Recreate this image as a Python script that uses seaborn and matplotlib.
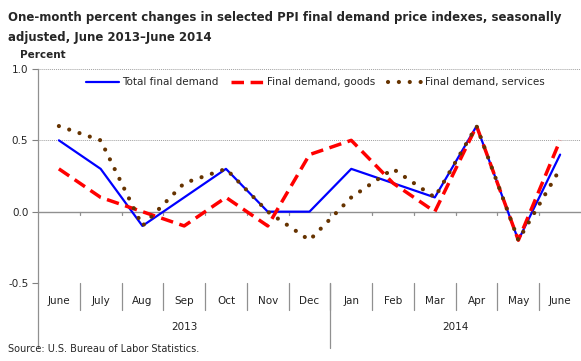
import numpy as np
import pandas as pd
import matplotlib
matplotlib.use("Agg")
import matplotlib.pyplot as plt
import matplotlib.transforms as mtransforms
import seaborn as sns

months = ["June", "July", "Aug", "Sep", "Oct", "Nov", "Dec",
          "Jan", "Feb", "Mar", "Apr", "May", "June"]
years = ["2013", "2014"]
year_spans = [(0, 7), (7, 13)]  # month index ranges per year

total = [0.5, 0.3, -0.1, 0.1, 0.3, 0.0, 0.0, 0.3, 0.2, 0.1, 0.6, -0.2, 0.4]
goods = [0.3, 0.1, 0.0, -0.1, 0.1, -0.1, 0.4, 0.5, 0.2, 0.0, 0.6, -0.2, 0.5]
services = [0.6, 0.5, -0.1, 0.2, 0.3, 0.0, -0.2, 0.1, 0.3, 0.1, 0.6, -0.2, 0.3]

series_names = ["Total final demand", "Final demand, goods", "Final demand, services"]

pos = np.arange(len(months))
df = pd.DataFrame({
    "pos": np.tile(pos, 3),
    "value": total + goods + services,
    "series": np.repeat(series_names, len(months)),
})

sns.set_style("white")
plt.rcParams["font.family"] = ["DejaVu Sans"]

fig = plt.figure(figsize=(5.81, 3.61), dpi=100)
ax = fig.add_axes([38 / 581, 1 - 283 / 361, 1 - 38 / 581, (283 - 69) / 361])

styles = {
    "Total final demand": dict(color="#0000FF", lw=1.6),
    "Final demand, goods": dict(color="#FF0000", lw=2.5, dashes=(3.6, 1.9)),
    "Final demand, services": dict(color="#663300", lw=3.0, dashes=(0.01, 2.6),
                                   dash_capstyle="round"),
}
for name in series_names:
    st = dict(styles[name])
    dashes = st.pop("dashes", None)
    sub = df[df["series"] == name]
    sns.lineplot(data=sub, x="pos", y="value", ax=ax, label=name, **st)
    if dashes is not None:
        ax.lines[-1].set_dashes(dashes)

ax.set_xlim(-0.5, len(months) - 0.5)
ax.set_ylim(-0.5, 1.0)
ax.set_yticks([-0.5, 0.0, 0.5, 1.0])
ax.set_yticklabels(["-0.5", "0.0", "0.5", "1.0"], fontsize=7.5)
ax.tick_params(axis="y", length=4, width=0.8, color="#808080", pad=3, left=True)
for y in [-0.5, 0.5, 1.0]:
    ax.axhline(y, color="#a0a0a0", lw=0.7, ls=(0, (1, 1)), zorder=0)
ax.axhline(0, color="#909090", lw=1.0, zorder=0.5)

# small ticks under the zero line at month boundaries
for b in np.arange(0.5, len(months) - 0.5, 1):
    ax.plot([b, b], [0, -0.025], color="#909090", lw=0.9, zorder=0.5)

for s in ["top", "right", "bottom"]:
    ax.spines[s].set_visible(False)
ax.spines["left"].set_color("#909090")
ax.spines["left"].set_linewidth(0.9)

# month labels and separators below the plot
ax.set_xticks(pos)
ax.set_xticklabels([])
ax.tick_params(axis="x", length=0)
trans = mtransforms.blended_transform_factory(ax.transData, ax.transAxes)
px = 1 / ((283 - 69))  # one pixel in axes fraction (vertical)
for i, m in enumerate(months):
    ax.text(i, -18 * px, m, transform=trans, ha="center", va="center",
            fontsize=7.5, color="#222222")
for b in np.arange(0.5, len(months) - 0.5, 1):
    ax.plot([b, b], [0, -27 * px], transform=trans, color="#909090",
            lw=0.9, clip_on=False)
for (a, e), yr in zip(year_spans, years):
    ax.text((a + e - 1) / 2, -44 * px, yr, transform=trans, ha="center",
            va="center", fontsize=7.5, color="#222222")
    ax.plot([a - 0.5, a - 0.5], [0, -65 * px], transform=trans,
            color="#909090", lw=0.9, clip_on=False)

ax.set_xlabel("")
ax.set_ylabel("")

leg = ax.legend(loc="upper left", bbox_to_anchor=(0.08, 0.98), ncol=3,
                frameon=False, fontsize=7.5, handlelength=3.2,
                handletextpad=0.3, columnspacing=1.2, borderaxespad=0)

fig.text(8 / 581, 1 - 18 / 361, "One-month percent changes in selected PPI final demand price indexes, seasonally",
         fontsize=8.5, fontweight="bold", va="center", ha="left")
fig.text(8 / 581, 1 - 37 / 361, "adjusted, June 2013\u2013June 2014",
         fontsize=8.5, fontweight="bold", va="center", ha="left")
fig.text(20 / 581, 1 - 55 / 361, "Percent", fontsize=7.5, fontweight="bold",
         va="center", ha="left")
fig.text(8 / 581, 1 - 349 / 361, "Source: U.S. Bureau of Labor Statistics.",
         fontsize=7, va="center", ha="left")

fig.savefig("out.png", dpi=100)
